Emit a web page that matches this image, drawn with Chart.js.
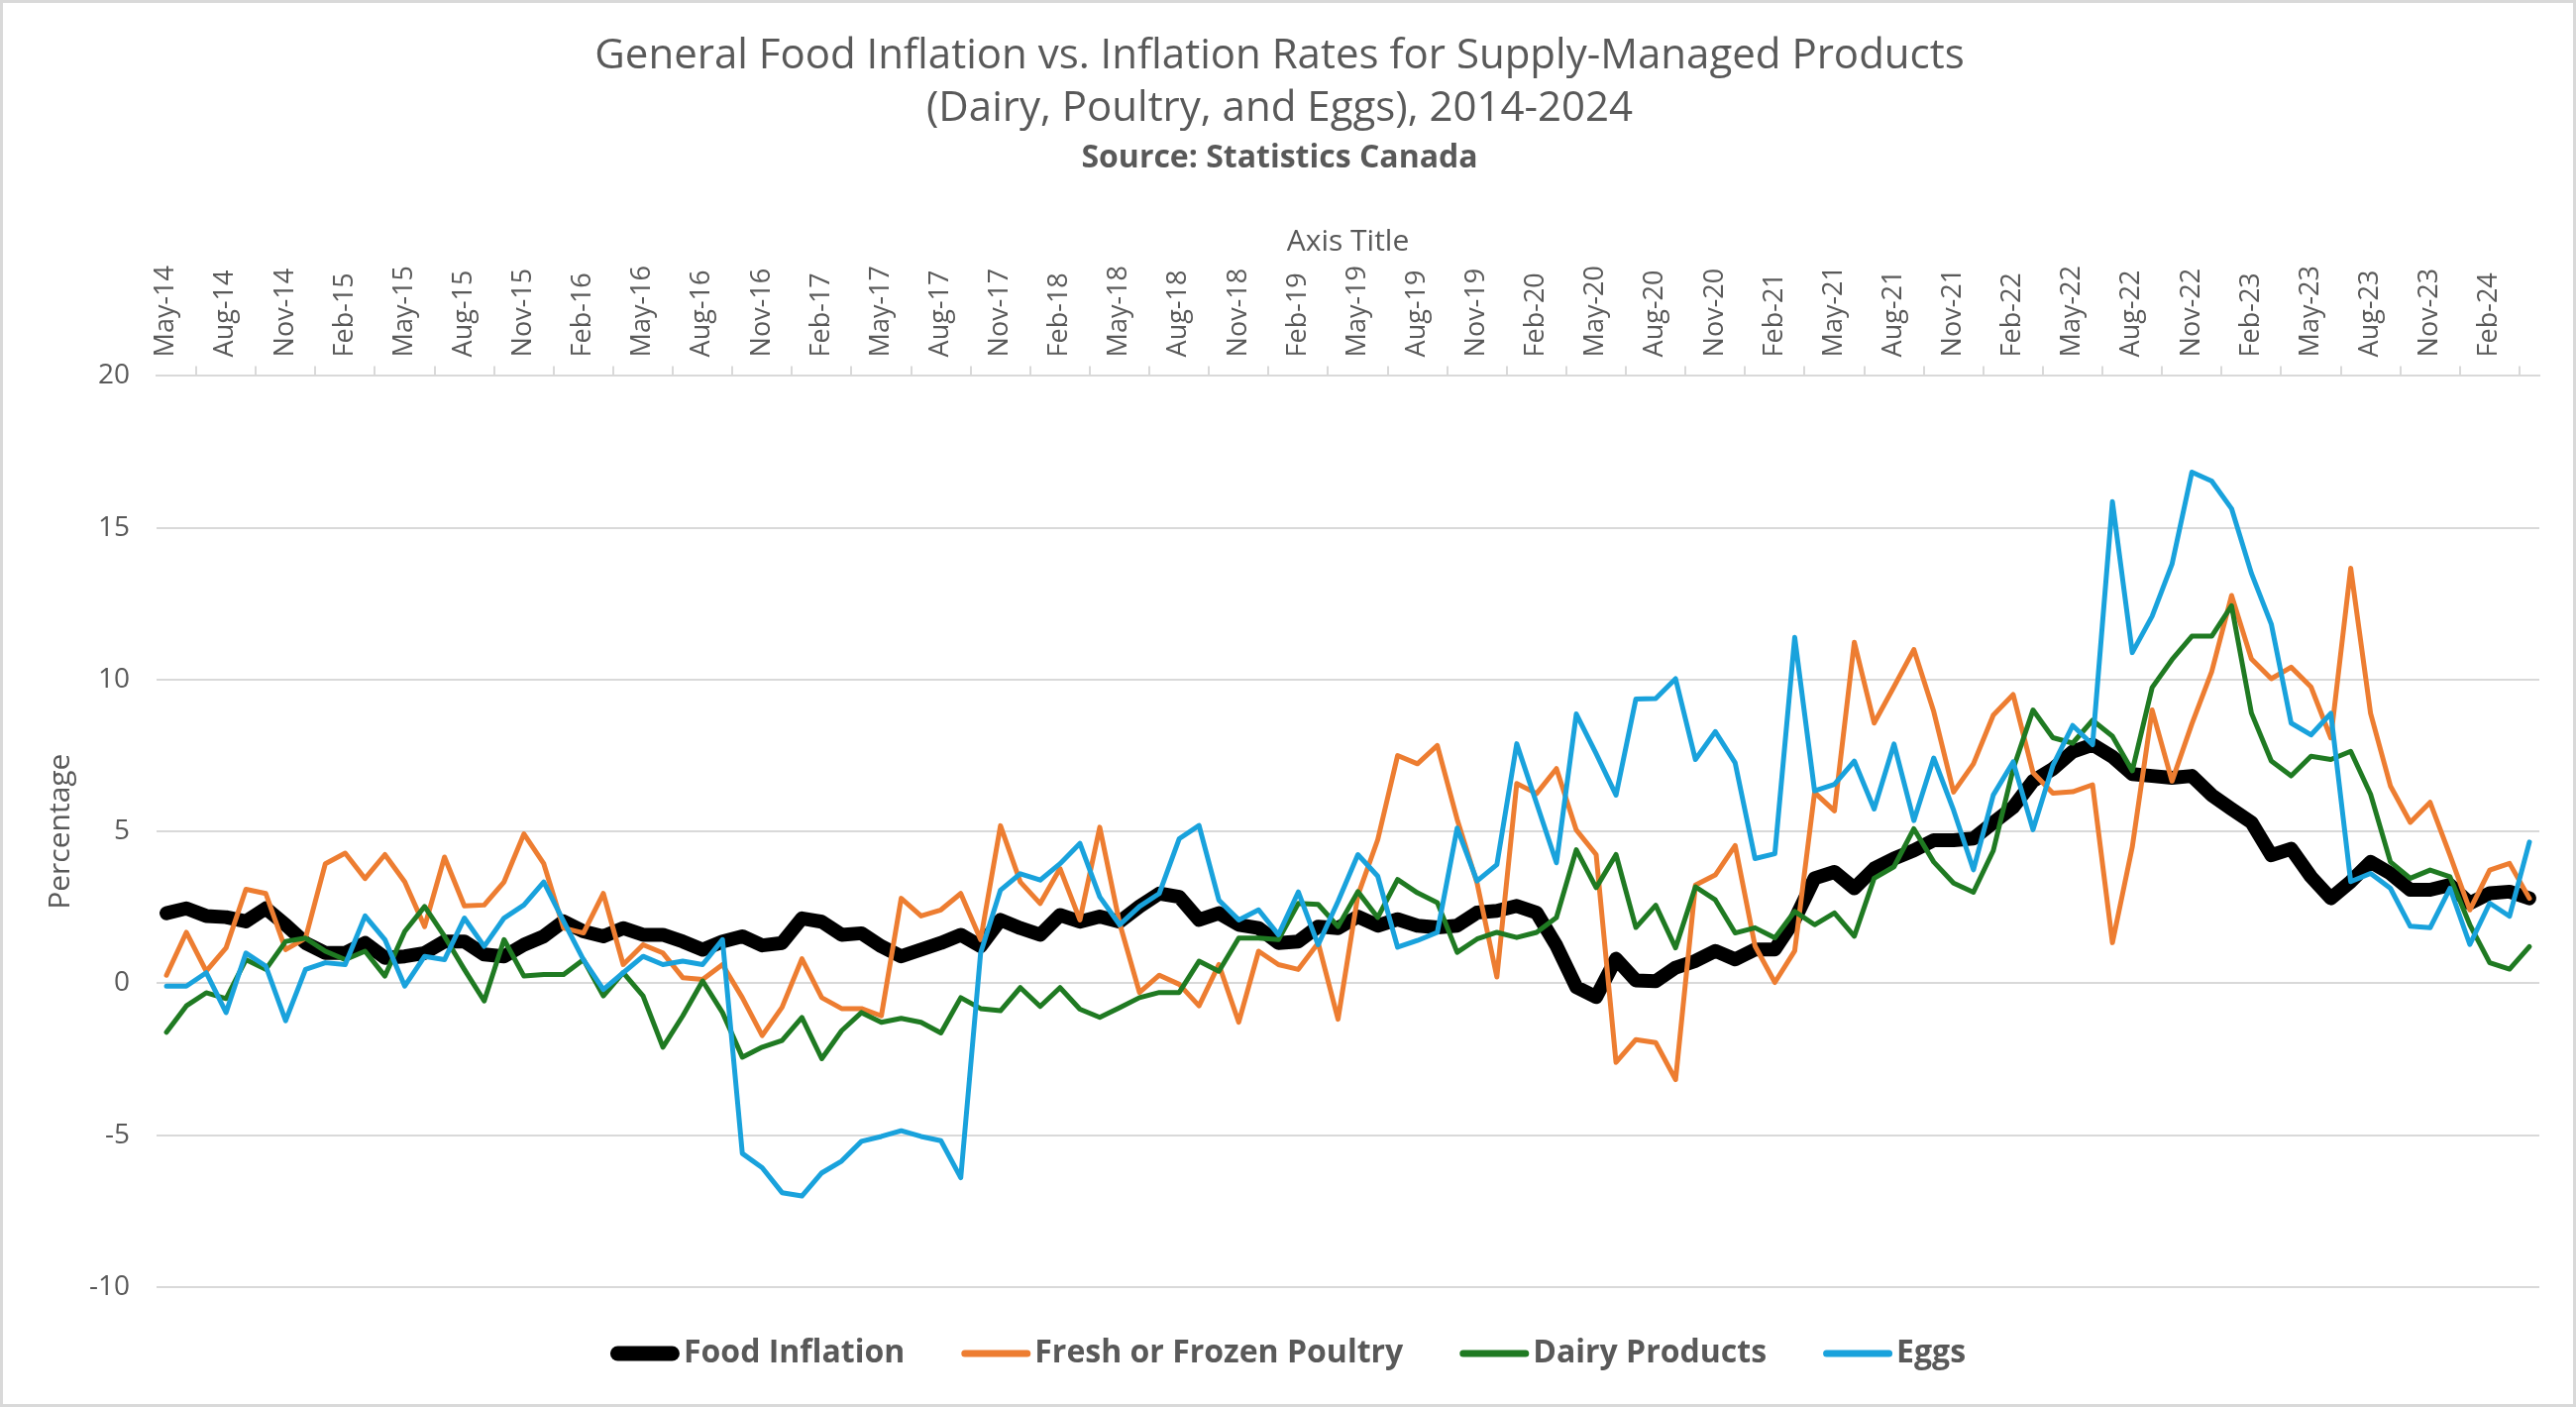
<!DOCTYPE html>
<html>
<head>
<meta charset="utf-8">
<script src="https://cdn.jsdelivr.net/npm/chart.js@4.4.1/dist/chart.umd.min.js"></script>
<style>
  html, body { margin: 0; padding: 0; background: #fff; }
  #wrap { width: 2600px; height: 1420px; }
</style>
</head>
<body>
<div id="wrap"><canvas id="chart" width="2600" height="1420"></canvas></div>
<script>
// monthly series, May-14 .. Apr-24
const monthNames = ['Jan', 'Feb', 'Mar', 'Apr', 'May', 'Jun', 'Jul', 'Aug', 'Sep', 'Oct', 'Nov', 'Dec'];
const startMonth = 4; // May
const startYear = 2014;
const monthCount = 120;

const foodInflation = [
  2.31, 2.47, 2.22, 2.18, 2.04, 2.47, 1.93, 1.33, 1.0, 1.0, 1.33, 0.84, 0.89, 1.0, 1.38,
  1.38, 0.95, 0.89, 1.27, 1.55, 2.04, 1.71, 1.55, 1.82, 1.6, 1.6, 1.38, 1.11, 1.38, 1.55,
  1.25, 1.33, 2.14, 2.03, 1.6, 1.65, 1.22, 0.89, 1.11, 1.33, 1.6, 1.22, 2.09, 1.82, 1.6,
  2.25, 2.03, 2.2, 2.03, 2.53, 2.96, 2.85, 2.09, 2.31, 1.93, 1.82, 1.33, 1.38, 1.87, 1.82,
  2.2, 1.9, 2.11, 1.9, 1.84, 1.9, 2.33, 2.39, 2.55, 2.33, 1.24, -0.12, -0.45, 0.81, 0.1,
  0.07, 0.52, 0.74, 1.07, 0.79, 1.12, 1.12, 2.1, 3.46, 3.67, 3.13, 3.78, 4.11, 4.38, 4.71,
  4.71, 4.77, 5.29, 5.8, 6.66, 7.06, 7.63, 7.86, 7.46, 6.89, 6.83, 6.77, 6.83, 6.2, 5.74,
  5.3, 4.22, 4.43, 3.51, 2.8, 3.35, 4.0, 3.62, 3.08, 3.08, 3.24, 2.64, 2.97, 3.02, 2.8
];
const poultry = [
  0.27, 1.68, 0.4, 1.17, 3.1, 2.96, 1.11, 1.49, 3.94, 4.29, 3.45, 4.24, 3.34, 1.87, 4.16,
  2.55, 2.58, 3.34, 4.92, 3.94, 1.82, 1.66, 2.96, 0.62, 1.27, 1.0, 0.19, 0.13, 0.62, -0.47,
  -1.72, -0.79, 0.81, -0.47, -0.83, -0.83, -1.07, 2.8, 2.22, 2.42, 2.96, 1.44, 5.19, 3.34, 2.63,
  3.78, 2.09, 5.14, 1.98, -0.3, 0.27, -0.03, -0.74, 0.62, -1.28, 1.06, 0.62, 0.46, 1.33, -1.18,
  2.9, 4.73, 7.5, 7.23, 7.83, 5.4, 3.31, 0.21, 6.58, 6.25, 7.07, 5.05, 4.24, -2.6, -1.85,
  -1.95, -3.17, 3.24, 3.57, 4.54, 1.23, 0.03, 1.07, 6.28, 5.68, 11.23, 8.57, 9.77, 10.99, 8.95,
  6.3, 7.23, 8.83, 9.51, 6.94, 6.26, 6.31, 6.54, 1.34, 4.49, 9.0, 6.66, 8.54, 10.26, 12.77,
  10.68, 10.03, 10.41, 9.76, 8.08, 13.67, 8.89, 6.5, 5.3, 5.96, 4.22, 2.42, 3.73, 3.95, 2.8
];
const dairy = [
  -1.61, -0.74, -0.31, -0.5, 0.78, 0.46, 1.38, 1.49, 1.06, 0.78, 1.06, 0.24, 1.71, 2.53, 1.55,
  0.46, -0.58, 1.44, 0.24, 0.29, 0.29, 0.78, -0.41, 0.35, -0.41, -2.1, -1.07, 0.08, -0.96, -2.43,
  -2.1, -1.88, -1.12, -2.48, -1.56, -0.96, -1.28, -1.15, -1.28, -1.63, -0.47, -0.83, -0.9, -0.14, -0.76,
  -0.14, -0.85, -1.12, -0.8, -0.47, -0.3, -0.3, 0.73, 0.4, 1.49, 1.49, 1.44, 2.63, 2.6, 1.87,
  3.02, 2.17, 3.42, 2.98, 2.66, 1.02, 1.46, 1.68, 1.51, 1.68, 2.17, 4.4, 3.15, 4.24, 1.84,
  2.57, 1.17, 3.18, 2.75, 1.66, 1.83, 1.5, 2.37, 1.93, 2.32, 1.55, 3.46, 3.84, 5.09, 4.0,
  3.3, 3.0, 4.37, 7.06, 9.0, 8.09, 7.91, 8.66, 8.14, 7.0, 9.74, 10.66, 11.43, 11.43, 12.43,
  8.9, 7.32, 6.83, 7.48, 7.37, 7.64, 6.23, 4.0, 3.46, 3.73, 3.51, 1.93, 0.68, 0.47, 1.21
];
const eggs = [
  -0.09, -0.09, 0.35, -0.96, 1.0, 0.57, -1.23, 0.46, 0.68, 0.62, 2.22, 1.44, -0.09, 0.89, 0.78,
  2.15, 1.22, 2.15, 2.58, 3.34, 2.04, 0.78, -0.2, 0.35, 0.89, 0.62, 0.73, 0.62, 1.44, -5.6,
  -6.07, -6.89, -7.0, -6.24, -5.85, -5.2, -5.04, -4.85, -5.04, -5.18, -6.4, 1.0, 3.07, 3.61, 3.4,
  3.94, 4.61, 2.85, 1.93, 2.53, 2.96, 4.76, 5.2, 2.74, 2.09, 2.42, 1.6, 3.01, 1.27, 2.7,
  4.24, 3.53, 1.19, 1.41, 1.68, 5.11, 3.37, 3.91, 7.89, 5.93, 3.97, 8.87, 7.56, 6.2, 9.36,
  9.38, 10.03, 7.37, 8.29, 7.26, 4.11, 4.27, 11.39, 6.34, 6.55, 7.32, 5.74, 7.88, 5.36, 7.42,
  5.7, 3.74, 6.2, 7.29, 5.06, 7.17, 8.49, 7.86, 15.86, 10.89, 12.09, 13.8, 16.83, 16.54, 15.63,
  13.5, 11.83, 8.57, 8.18, 8.89, 3.35, 3.62, 3.13, 1.88, 1.83, 3.13, 1.28, 2.64, 2.21, 4.65
];

const labels = [];
for (let i = 0; i < monthCount; i++) {
  const m = (startMonth + i) % 12;
  const y = startYear + Math.floor((startMonth + i) / 12);
  labels.push(`${monthNames[m]}-${String(y).slice(2)}`);
}

const FONT = '"Open Sans", "Liberation Sans", sans-serif';
const GREY = '#595959';
const GRID = '#D9D9D9';

// white background + thin chart border
const frame = {
  id: 'frame',
  beforeDraw(chart) {
    const ctx = chart.ctx;
    ctx.save();
    ctx.fillStyle = '#fff';
    ctx.fillRect(0, 0, chart.width, chart.height);
    ctx.restore();
  },
  afterDraw(chart) {
    const ctx = chart.ctx;
    ctx.save();
    ctx.strokeStyle = GRID;
    ctx.lineWidth = 3;
    ctx.strokeRect(1.5, 1.5, chart.width - 3, chart.height - 3);
    ctx.restore();
  }
};

// legend with line samples and tight text, like the spreadsheet one
const lineLegend = {
  id: 'lineLegend',
  afterDraw(chart) {
    const ctx = chart.ctx;
    const lineLen = 70, textGap = 4, itemGap = 57, y = 1366;
    ctx.save();
    ctx.font = `bold 32px ${FONT}`;
    const items = chart.data.datasets.map(ds => ({ ds, w: ctx.measureText(ds.label).width }));
    const total = items.reduce((s, it) => s + lineLen + textGap + it.w, 0) + itemGap * (items.length - 1);
    let x = (chart.width - total) / 2;
    items.forEach((it) => {
      ctx.strokeStyle = it.ds.borderColor;
      ctx.lineWidth = it.ds.legendWidth;
      ctx.lineCap = 'round';
      const pad = it.ds.legendWidth / 2;
      ctx.beginPath();
      ctx.moveTo(x + pad, y);
      ctx.lineTo(x + lineLen - pad, y);
      ctx.stroke();
      ctx.fillStyle = GREY;
      ctx.textBaseline = 'middle';
      ctx.textAlign = 'left';
      ctx.fillText(it.ds.label, x + lineLen + textGap, y);
      x += lineLen + textGap + it.w + itemGap;
    });
    ctx.restore();
  }
};

const lineStyle = { pointRadius: 0, pointHoverRadius: 0, tension: 0, borderJoinStyle: 'round', borderCapStyle: 'round', fill: false };

new Chart(document.getElementById('chart').getContext('2d'), {
  type: 'line',
  data: {
    labels,
    datasets: [
      { ...lineStyle, label: 'Food Inflation', data: foodInflation, borderColor: '#000000', backgroundColor: '#000000', borderWidth: 14, legendWidth: 15, order: 4 },
      { ...lineStyle, label: 'Fresh or Frozen Poultry', data: poultry, borderColor: '#ED7D31', backgroundColor: '#ED7D31', borderWidth: 5, legendWidth: 7, order: 3 },
      { ...lineStyle, label: 'Dairy Products', data: dairy, borderColor: '#1F7A22', backgroundColor: '#1F7A22', borderWidth: 5, legendWidth: 7, order: 2 },
      { ...lineStyle, label: 'Eggs', data: eggs, borderColor: '#19A2DC', backgroundColor: '#19A2DC', borderWidth: 5, legendWidth: 7, order: 1 }
    ]
  },
  options: {
    responsive: false,
    animation: false,
    devicePixelRatio: 1,
    layout: { padding: { left: 20, right: 37, top: 0, bottom: 121 } },
    plugins: {
      legend: { display: false },
      tooltip: { enabled: false },
      title: {
        display: true,
        text: ['General Food Inflation vs. Inflation Rates for Supply-Managed Products', '(Dairy, Poultry, and Eggs), 2014-2024'],
        color: GREY,
        font: { family: FONT, size: 42, weight: 'normal', lineHeight: 1.262 },
        padding: { top: 31, bottom: 7 }
      },
      subtitle: {
        display: true,
        text: 'Source: Statistics Canada',
        color: GREY,
        font: { family: FONT, size: 32, weight: 'bold', lineHeight: 1.0 },
        padding: { top: 0, bottom: 33 }
      }
    },
    scales: {
      x: {
        position: 'top',
        offset: true,
        grid: { offset: true, drawOnChartArea: false, drawTicks: true, tickLength: 10, color: GRID, lineWidth: 2 },
        border: { display: true, color: GRID, width: 2 },
        ticks: {
          autoSkip: false,
          minRotation: 90,
          maxRotation: 90,
          padding: 9,
          labelOffset: 32,
          color: GREY,
          font: { family: FONT, size: 27 },
          callback: (v, i) => (i % 3 === 0 ? labels[i] : null)
        },
        title: {
          display: true,
          text: 'Axis Title',
          color: GREY,
          font: { family: FONT, size: 30, lineHeight: 1.0 },
          padding: { top: 20, bottom: 0 }
        }
      },
      y: {
        min: -10,
        max: 20,
        grid: { color: GRID, lineWidth: 2, drawTicks: false },
        border: { display: false },
        ticks: { stepSize: 5, padding: 27, color: GREY, font: { family: FONT, size: 28 } },
        title: {
          display: true,
          text: 'Percentage',
          color: GREY,
          font: { family: FONT, size: 30 },
          padding: { top: 23, bottom: -16 }
        }
      }
    }
  },
  plugins: [frame, lineLegend]
});
</script>
</body>
</html>
